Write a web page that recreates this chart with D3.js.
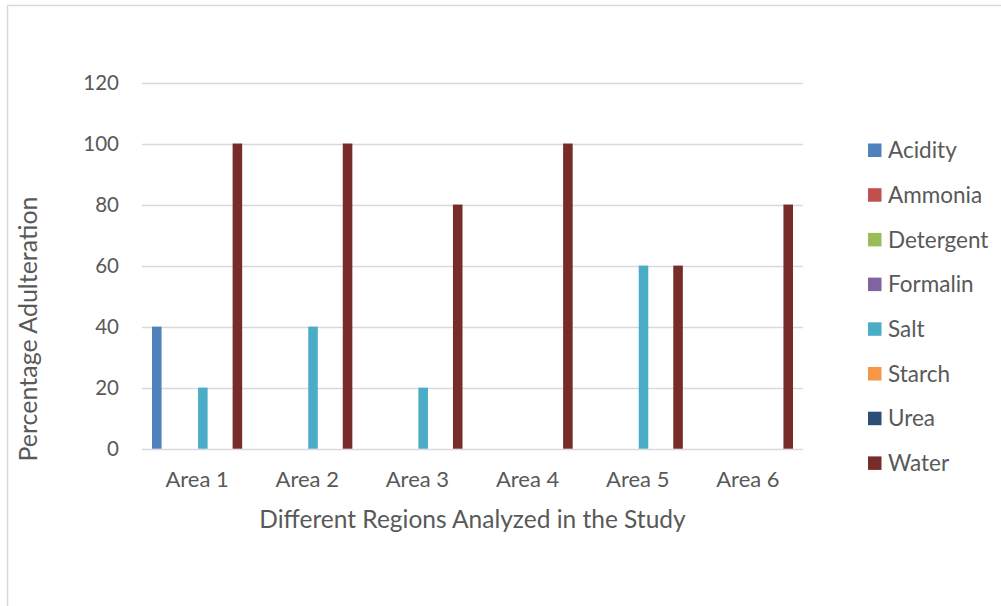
<!DOCTYPE html>
<html>
<head>
<meta charset="utf-8">
<script src="https://cdn.jsdelivr.net/npm/d3@7"></script>
<style>
  html, body { margin: 0; padding: 0; background: #ffffff; }
  svg { display: block; }
  text { font-family: Lato, "Open Sans", sans-serif; fill: #595959; }
</style>
</head>
<body>
<svg id="chart" width="1001" height="606"></svg>
<script>
// Regions along the x axis
const areas = ["Area 1", "Area 2", "Area 3", "Area 4", "Area 5", "Area 6"];

// Adulterant series, one value per region (percent)
const seriesNames = ["Acidity", "Ammonia", "Detergent", "Formalin", "Salt", "Starch", "Urea", "Water"];
const acidity   = [40, 0, 0, 0, 0, 0];
const ammonia   = [0, 0, 0, 0, 0, 0];
const detergent = [0, 0, 0, 0, 0, 0];
const formalin  = [0, 0, 0, 0, 0, 0];
const salt      = [20, 40, 20, 0, 60, 0];
const starch    = [0, 0, 0, 0, 0, 0];
const urea      = [0, 0, 0, 0, 0, 0];
const water     = [100, 100, 80, 100, 60, 80];

const yTicks = [0, 20, 40, 60, 80, 100, 120];

const seriesValues = [acidity, ammonia, detergent, formalin, salt, starch, urea, water];
const seriesColors = ["#4f81bd", "#c0504d", "#9bbb59", "#8064a2", "#4bacc6", "#f79646", "#2c4d75", "#772c2a"];

const svg = d3.select("#chart");

// Chart area frame
svg.append("rect")
  .attr("x", 7.5).attr("y", 5.5)
  .attr("width", 1100).attr("height", 700)
  .attr("fill", "none").attr("stroke", "#d9d9d9").attr("stroke-width", 1.5);

const plot = { left: 142, right: 803, top: 82.5, bottom: 448.7 };

const y = d3.scaleLinear().domain([0, 120]).range([plot.bottom, plot.top]);
const x0 = d3.scaleBand().domain(areas).range([plot.left, plot.right]).padding(0);
const x1 = d3.scaleBand().domain(seriesNames)
  .range([10, x0.bandwidth() - 10]).paddingInner(0.17).paddingOuter(0);

// Horizontal gridlines
svg.append("g").selectAll("line")
  .data(yTicks)
  .join("line")
  .attr("x1", plot.left).attr("x2", plot.right)
  .attr("y1", d => Math.round(y(d)) + 0.5).attr("y2", d => Math.round(y(d)) + 0.5)
  .attr("stroke", "#d9d9d9").attr("stroke-width", 1.5);

// Y tick labels
svg.append("g").selectAll("text")
  .data(yTicks)
  .join("text")
  .attr("x", 119)
  .attr("y", d => y(d))
  .attr("dy", "0.36em")
  .attr("text-anchor", "end")
  .attr("font-size", 20.5)
  .text(d => d);

// Bars
const groups = svg.append("g").selectAll("g")
  .data(areas)
  .join("g")
  .attr("transform", d => `translate(${x0(d)},0)`);

groups.selectAll("rect")
  .data((a, i) => seriesNames.map((s, k) => ({ s, v: seriesValues[k][i], c: seriesColors[k] })))
  .join("rect")
  .attr("x", d => x1(d.s))
  .attr("width", x1.bandwidth())
  .attr("y", d => y(d.v))
  .attr("height", d => y(0) - y(d.v))
  .attr("fill", d => d.c);

// Category labels
svg.append("g").selectAll("text")
  .data(areas)
  .join("text")
  .attr("x", d => x0(d) + x0.bandwidth() / 2)
  .attr("y", 487)
  .attr("text-anchor", "middle")
  .attr("font-size", 22)
  .text(d => d);

// Axis titles
svg.append("text")
  .attr("x", (plot.left + plot.right) / 2)
  .attr("y", 528)
  .attr("text-anchor", "middle")
  .attr("font-size", 24.5)
  .text("Different Regions Analyzed in the Study");

svg.append("text")
  .attr("transform", "translate(37,329) rotate(-90)")
  .attr("text-anchor", "middle")
  .attr("font-size", 25)
  .text("Percentage Adulteration");

// Legend
const legend = svg.append("g").selectAll("g")
  .data(seriesNames)
  .join("g")
  .attr("transform", (d, i) => `translate(868,${150 + i * 44.7})`);

legend.append("rect")
  .attr("x", 0).attr("y", -6.5)
  .attr("width", 13.5).attr("height", 13.5)
  .attr("fill", (d, i) => seriesColors[i]);

legend.append("text")
  .attr("x", 20)
  .attr("y", 0)
  .attr("dy", "0.36em")
  .attr("font-size", 22.5)
  .text(d => d);
</script>
</body>
</html>
